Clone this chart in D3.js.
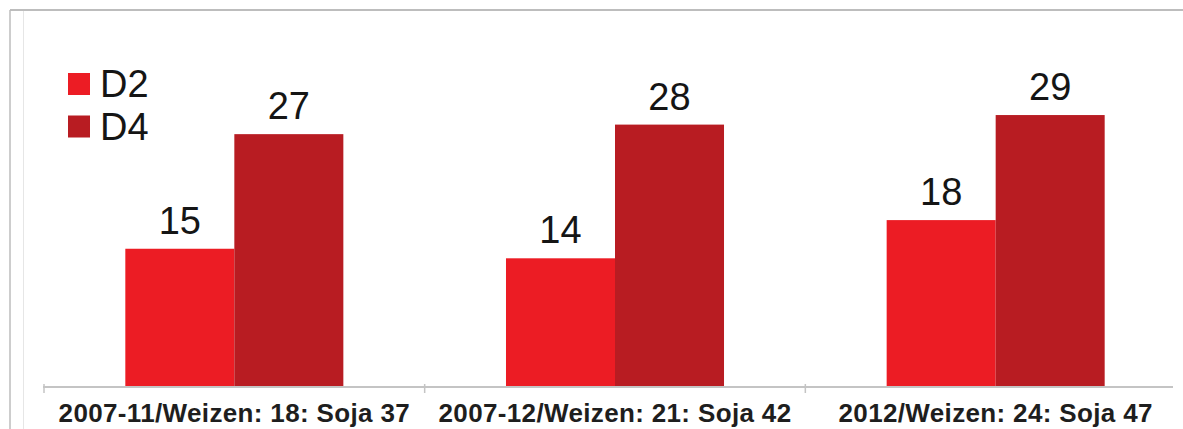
<!DOCTYPE html>
<html>
<head>
<meta charset="utf-8">
<script src="https://cdn.jsdelivr.net/npm/d3@7"></script>
<style>
  html, body { margin: 0; padding: 0; background: #fff; }
  svg { display: block; font-family: "Liberation Sans", Arial, sans-serif; }
</style>
</head>
<body>
<svg id="chart" width="1183" height="429"></svg>
<script>
// Data
const categories = [
  "2007-11/Weizen: 18: Soja 37",
  "2007-12/Weizen: 21: Soja 42",
  "2012/Weizen: 24: Soja 47"
];
const seriesNames = ["D2", "D4"];
const d2Values = [15, 14, 18];
const d4Values = [27, 28, 29];
const seriesColors = ["#ec1c24", "#b81c22"];

const rows = categories.map((c, i) => ({ category: c, values: [d2Values[i], d4Values[i]] }));

const width = 1183, height = 429;
const svg = d3.select("#chart");

// Frame lines
svg.append("line").attr("x1", 10).attr("x2", width).attr("y1", 10).attr("y2", 10)
  .attr("stroke", "#bdbdbd").attr("stroke-width", 2);
svg.append("line").attr("x1", 10).attr("x2", 10).attr("y1", 10).attr("y2", height)
  .attr("stroke", "#bdbdbd").attr("stroke-width", 1.5);
svg.append("line").attr("x1", 23.5).attr("x2", 23.5).attr("y1", 11).attr("y2", height)
  .attr("stroke", "#e6e6e6").attr("stroke-width", 1);

// Scales
const baselineY = 387;
const x0 = d3.scaleBand().domain(categories).range([44, 1186]).padding(0);
const x1 = d3.scaleBand().domain(seriesNames).range([0, x0.bandwidth()])
  .paddingInner(0).paddingOuter(0.746);
const y = d3.scaleLinear().domain([0, 29]).range([392, 115.05]);

// Plot clip so bars end on the baseline
svg.append("defs").append("clipPath").attr("id", "plotClip")
  .append("rect").attr("x", 0).attr("y", 0).attr("width", width).attr("height", baselineY);

const plot = svg.append("g").attr("clip-path", "url(#plotClip)");
const groups = plot.selectAll("g.grp").data(rows).join("g")
  .attr("class", "grp")
  .attr("transform", d => `translate(${x0(d.category)},0)`);

groups.selectAll("rect").data(d => d.values.map((v, j) => ({ key: seriesNames[j], v, j })))
  .join("rect")
  .attr("x", d => x1(d.key))
  .attr("width", x1.bandwidth())
  .attr("y", d => y(d.v))
  .attr("height", d => y(0) - y(d.v))
  .attr("fill", d => seriesColors[d.j]);

// Value labels
const labels = svg.append("g");
rows.forEach(r => {
  r.values.forEach((v, j) => {
    labels.append("text")
      .attr("x", x0(r.category) + x1(seriesNames[j]) + x1.bandwidth() / 2)
      .attr("y", y(v) - 15)
      .attr("text-anchor", "middle")
      .attr("font-size", 38)
      .attr("fill", "#151515")
      .text(v);
  });
});

// Baseline and ticks
svg.append("line").attr("x1", 43).attr("x2", 1173).attr("y1", baselineY).attr("y2", baselineY)
  .attr("stroke", "#c4c4c4").attr("stroke-width", 2);
svg.selectAll("line.tick").data(categories).join("line")
  .attr("class", "tick")
  .attr("x1", d => x0(d)).attr("x2", d => x0(d))
  .attr("y1", baselineY - 3).attr("y2", baselineY + 6)
  .attr("stroke", "#c4c4c4").attr("stroke-width", 1.5);

// Category labels
svg.selectAll("text.cat").data(categories).join("text")
  .attr("class", "cat")
  .attr("x", d => x0(d) + x0.bandwidth() / 2)
  .attr("y", 422)
  .attr("text-anchor", "middle")
  .attr("font-size", 26)
  .attr("font-weight", "bold")
  .attr("letter-spacing", 0.35)
  .attr("fill", "#1e1e1e")
  .text(d => d);

// Legend
const legend = svg.append("g").attr("transform", "translate(68,73)");
seriesNames.forEach((name, i) => {
  const g = legend.append("g").attr("transform", `translate(0,${i * 42.5})`);
  g.append("rect").attr("width", 22).attr("height", 22).attr("fill", seriesColors[i]);
  g.append("text").attr("x", 32).attr("y", 24).attr("font-size", 38)
    .attr("fill", "#151515").text(name);
});
</script>
</body>
</html>
